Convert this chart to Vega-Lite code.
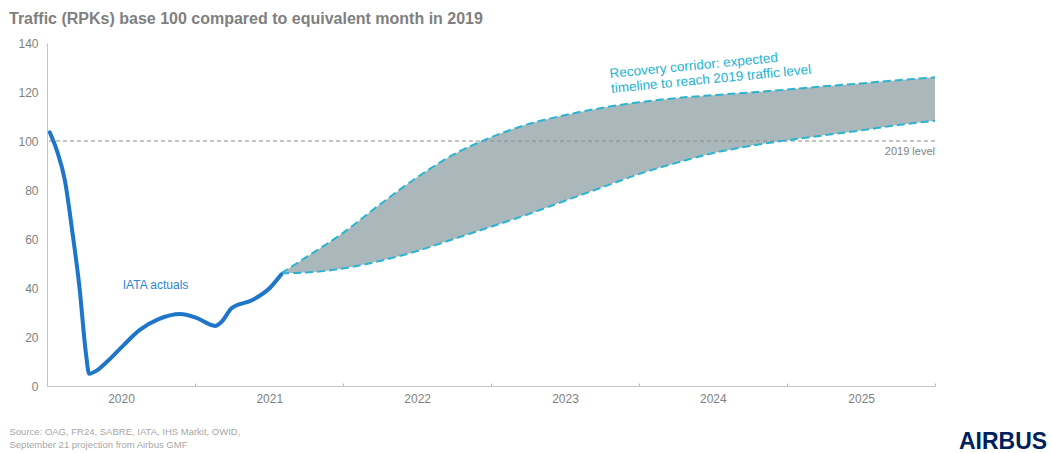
{
  "$schema": "https://vega.github.io/schema/vega-lite/v6.json",
  "width": 888,
  "height": 343,
  "autosize": {"type": "none"},
  "padding": {"left": 47, "top": 43, "right": 117, "bottom": 67},
  "background": "white",
  "config": {"font": "Liberation Sans", "view": {"stroke": null}},
  "title": {
    "text": "Traffic (RPKs) base 100 compared to equivalent month in 2019",
    "anchor": "start",
    "frame": "group",
    "dx": -38,
    "offset": -3,
    "baseline": "alphabetic",
    "fontSize": 16,
    "fontWeight": "bold",
    "color": "#7f7f7f"
  },
  "datasets": {
    "actual": [
      {"date": "2020-01-08", "value": 103.5},
      {"date": "2020-01-25", "value": 96.3},
      {"date": "2020-02-14", "value": 84},
      {"date": "2020-03-04", "value": 62.4},
      {"date": "2020-03-21", "value": 40.5},
      {"date": "2020-04-06", "value": 13.5},
      {"date": "2020-04-14", "value": 5},
      {"date": "2020-05-02", "value": 6.2},
      {"date": "2020-05-26", "value": 9.6},
      {"date": "2020-07-07", "value": 16.5},
      {"date": "2020-08-17", "value": 22.9},
      {"date": "2020-10-01", "value": 27.2},
      {"date": "2020-11-25", "value": 29.4},
      {"date": "2021-01-04", "value": 27.8},
      {"date": "2021-02-19", "value": 24.5},
      {"date": "2021-03-07", "value": 26.2},
      {"date": "2021-04-01", "value": 31.8},
      {"date": "2021-05-22", "value": 35.1},
      {"date": "2021-07-04", "value": 40},
      {"date": "2021-08-01", "value": 45.5}
    ],
    "corridor": [
      {"date": "2021-08-01", "lower": 46, "upper": 46},
      {"date": "2021-10-01", "lower": 46.3, "upper": 52.5},
      {"date": "2022-01-01", "lower": 48, "upper": 62.5},
      {"date": "2022-04-01", "lower": 51, "upper": 74},
      {"date": "2022-07-01", "lower": 55, "upper": 85},
      {"date": "2022-10-01", "lower": 60, "upper": 94.5},
      {"date": "2023-01-01", "lower": 65, "upper": 101.5},
      {"date": "2023-04-01", "lower": 70, "upper": 106.8},
      {"date": "2023-07-01", "lower": 75.5, "upper": 110.5},
      {"date": "2023-10-01", "lower": 81, "upper": 113.5},
      {"date": "2024-01-01", "lower": 86.5, "upper": 115.8},
      {"date": "2024-04-01", "lower": 91, "upper": 117.5},
      {"date": "2024-07-01", "lower": 95, "upper": 118.7},
      {"date": "2024-10-01", "lower": 98, "upper": 119.8},
      {"date": "2025-01-01", "lower": 100.3, "upper": 121},
      {"date": "2025-04-01", "lower": 102.3, "upper": 122.3},
      {"date": "2025-07-01", "lower": 104.3, "upper": 123.5},
      {"date": "2025-10-01", "lower": 106.5, "upper": 124.8},
      {"date": "2026-01-01", "lower": 108.3, "upper": 126}
    ],
    "level": [
      {"label": "2019 level", "value": 100}
    ]
  },
  "layer": [
    {
      "data": {"name": "corridor"},
      "mark": {"type": "area", "interpolate": "monotone", "color": "#abb8bb", "opacity": 1},
      "encoding": {
        "x": {
          "field": "date",
          "type": "temporal",
          "scale": {
            "type": "utc",
            "domain": [
              {"year": 2020, "month": 1, "date": 1, "utc": true},
              {"year": 2026, "month": 1, "date": 1, "utc": true}
            ],
            "nice": false
          },
          "axis": {
            "title": [
              "Source: OAG, FR24, SABRE, IATA, IHS Markit, OWID,",
              "September 21 projection from Airbus GMF"
            ],
            "titleAnchor": "start",
            "titleAlign": "left",
            "titleBaseline": "top",
            "titleX": -38,
            "titleY": 40,
            "titleFontSize": 9.5,
            "titleFontWeight": "normal",
            "titleColor": "#a6a6a6",
            "titleLineHeight": 13,
            "tickCount": {"interval": "year", "step": 1},
            "labelExpr": "utcyear(datum.value) < 2026 ? utcFormat(datum.value, '%Y') : ''",
            "labelOffset": 74,
            "labelFlush": false,
            "labelOverlap": false,
            "labelFontSize": 12,
            "labelColor": "#7f7f7f",
            "labelPadding": 10,
            "tickSize": -3,
            "tickColor": "#bdbdbd",
            "domainColor": "#c4c4c4",
            "grid": false
          }
        },
        "y": {
          "field": "upper",
          "type": "quantitative",
          "scale": {"domain": [0, 140], "nice": false},
          "axis": {
            "title": null,
            "values": [0, 20, 40, 60, 80, 100, 120, 140],
            "ticks": false,
            "grid": false,
            "labelFontSize": 12,
            "labelColor": "#7f7f7f",
            "labelPadding": 9,
            "domainColor": "#c4c4c4"
          }
        },
        "y2": {"field": "lower"}
      }
    },
    {
      "data": {"name": "level"},
      "mark": {"type": "rule", "color": "#8a8a8a", "strokeDash": [4, 3], "strokeWidth": 1.2},
      "encoding": {"y": {"field": "value", "type": "quantitative"}}
    },
    {
      "data": {"name": "corridor"},
      "mark": {"type": "line", "interpolate": "monotone", "color": "#2ab4d0", "strokeWidth": 2, "strokeDash": [8, 4]},
      "encoding": {
        "x": {"field": "date", "type": "temporal"},
        "y": {"field": "upper", "type": "quantitative"}
      }
    },
    {
      "data": {"name": "corridor"},
      "mark": {"type": "line", "interpolate": "monotone", "color": "#2ab4d0", "strokeWidth": 2, "strokeDash": [8, 4]},
      "encoding": {
        "x": {"field": "date", "type": "temporal"},
        "y": {"field": "lower", "type": "quantitative"}
      }
    },
    {
      "data": {"name": "actual"},
      "mark": {"type": "line", "interpolate": "monotone", "color": "#1e76c8", "strokeWidth": 4, "strokeCap": "round", "strokeJoin": "round"},
      "encoding": {
        "x": {"field": "date", "type": "temporal"},
        "y": {"field": "value", "type": "quantitative"}
      }
    },
    {
      "data": {"values": [{"note": "IATA actuals"}]},
      "mark": {"type": "text", "align": "left", "baseline": "middle", "fontSize": 12, "color": "#2a86d2"},
      "encoding": {
        "x": {"datum": {"year": 2020, "month": 7, "date": 6, "utc": true}, "type": "temporal"},
        "y": {"datum": 41.2},
        "text": {"field": "note"}
      }
    },
    {
      "data": {"name": "level"},
      "mark": {"type": "text", "align": "right", "baseline": "middle", "fontSize": 11, "color": "#7f7f7f", "dy": 11},
      "encoding": {
        "x": {"datum": {"year": 2026, "month": 1, "date": 1, "utc": true}, "type": "temporal"},
        "y": {"field": "value", "type": "quantitative"},
        "text": {"field": "label"}
      }
    },
    {
      "data": {"values": [{"note": "Recovery corridor: expected"}]},
      "mark": {
        "type": "text",
        "align": "left",
        "baseline": "alphabetic",
        "fontSize": 13.5,
        "lineHeight": 15,
        "angle": -5.5,
        "color": "#22b3cf",
        "text": ["Recovery corridor: expected", "timeline to reach 2019 traffic level"]
      },
      "encoding": {
        "x": {"datum": {"year": 2023, "month": 10, "date": 22, "utc": true}, "type": "temporal"},
        "y": {"datum": 125.7}
      }
    },
    {
      "data": {"values": [{"note": "AIRBUS"}]},
      "mark": {"type": "text", "align": "center", "baseline": "middle", "fontSize": 23, "fontWeight": "bold", "color": "#00205b"},
      "encoding": {
        "x": {"datum": {"year": 2026, "month": 6, "date": 18, "utc": true}, "type": "temporal"},
        "y": {"datum": -22.7},
        "text": {"field": "note"}
      }
    }
  ]
}
